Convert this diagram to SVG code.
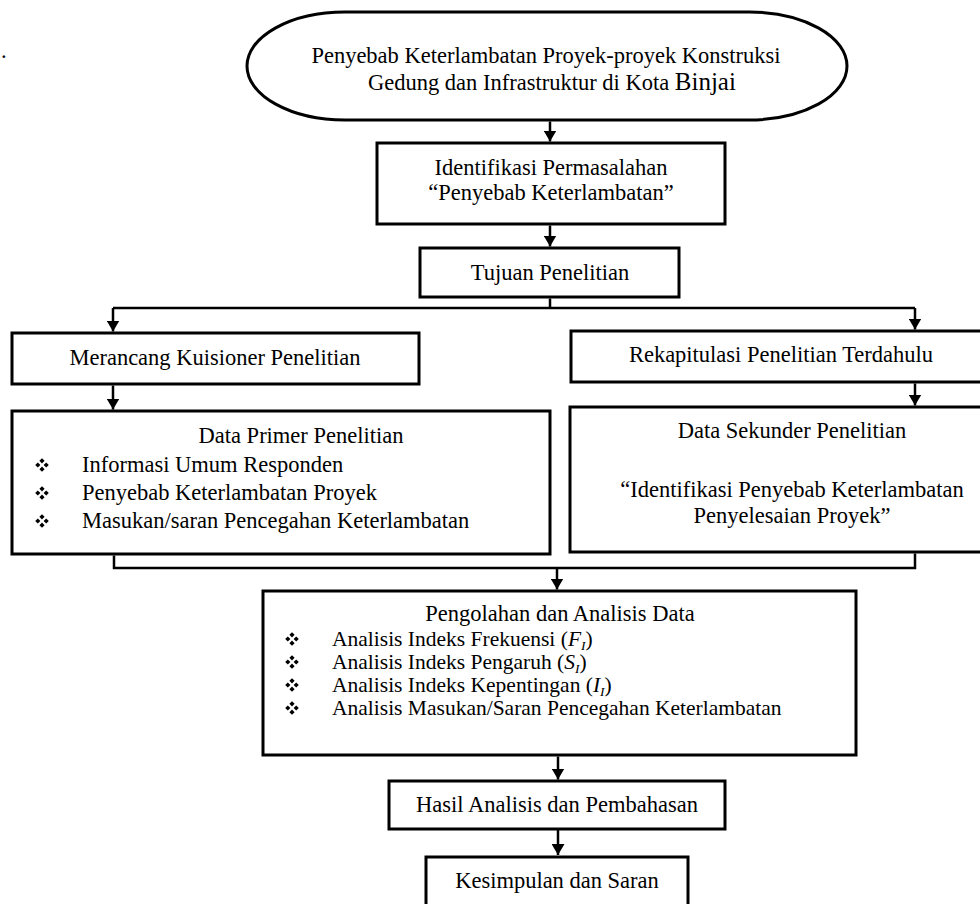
<svg xmlns="http://www.w3.org/2000/svg" width="980" height="904" viewBox="0 0 980 904">
<style>
  .box { fill: #ffffff; stroke: #000000; stroke-width: 3; }
  .conn { fill: none; stroke: #000000; stroke-width: 2.5; }
  text { font-family: "Liberation Serif", "Times New Roman", serif; font-size: 22.5px; fill: #000000; }
  .c { text-anchor: middle; }
  .sm { font-size: 21.5px; }
  .it { font-style: italic; }
</style>
<defs>
  <marker id="arr" markerUnits="userSpaceOnUse" markerWidth="11" markerHeight="13" refX="11" refY="6.5" orient="auto">
    <path d="M0,0 L11,6.5 L0,13 z" fill="#000000"/>
  </marker>
  <path id="bul" fill="#000000" d="M0,-6.8 L2.6,-4.2 L0,-1.6 L-2.6,-4.2Z M-4.2,-2.6 L-1.6,0 L-4.2,2.6 L-6.8,0Z M4.2,-2.6 L6.8,0 L4.2,2.6 L1.6,0Z M0,1.6 L2.6,4.2 L0,6.8 L-2.6,4.2Z"/>
</defs>
<rect x="0" y="0" width="980" height="904" fill="#ffffff"/>
<text x="1" y="58">.</text>

<g id="connectors">
  <path class="conn" d="M550,121.5 V141.5" marker-end="url(#arr)"/>
  <path class="conn" d="M550,225.5 V246.5" marker-end="url(#arr)"/>
  <path class="conn" d="M550,298.5 V308"/>
  <path class="conn" d="M113,308 H915"/>
  <path class="conn" d="M113,308 V331.5" marker-end="url(#arr)"/>
  <path class="conn" d="M915,308 V329.5" marker-end="url(#arr)"/>
  <path class="conn" d="M113,385.5 V409.5" marker-end="url(#arr)"/>
  <path class="conn" d="M915,383.5 V405.5" marker-end="url(#arr)"/>
  <path class="conn" d="M114,555.5 V568 H915 V553.5"/>
  <path class="conn" d="M557,568 V589.5" marker-end="url(#arr)"/>
  <path class="conn" d="M558,756.5 V779.5" marker-end="url(#arr)"/>
  <path class="conn" d="M558,829.5 V855" marker-end="url(#arr)"/>
</g>

<g id="start">
  <rect class="box" x="247" y="12" width="600" height="108" rx="98" ry="54"/>
  <text class="c" x="546" y="63">Penyebab Keterlambatan Proyek-proyek Konstruksi</text>
  <text x="368" y="90">Gedung dan Infrastruktur di Kota <tspan font-size="25">Binjai</tspan></text>
</g>

<g id="identifikasi">
  <rect class="box" x="377" y="143" width="348" height="81"/>
  <text class="c" x="551" y="175">Identifikasi Permasalahan</text>
  <text class="c" x="551" y="200">“Penyebab Keterlambatan”</text>
</g>

<g id="tujuan">
  <rect class="box" x="420" y="248" width="259" height="49"/>
  <text class="c" x="550" y="280">Tujuan Penelitian</text>
</g>

<g id="merancang">
  <rect class="box" x="12" y="333" width="407" height="51"/>
  <text class="c" x="215" y="365">Merancang Kuisioner Penelitian</text>
</g>

<g id="data-primer">
  <rect class="box" x="12" y="411" width="538" height="143"/>
  <text class="c" x="301" y="443">Data Primer Penelitian</text>
  <use href="#bul" x="42" y="465"/>
  <text x="82" y="472">Informasi Umum Responden</text>
  <use href="#bul" x="42" y="493"/>
  <text x="82" y="500">Penyebab Keterlambatan Proyek</text>
  <use href="#bul" x="42" y="521"/>
  <text x="82" y="528">Masukan/saran Pencegahan Keterlambatan</text>
</g>

<g id="rekapitulasi">
  <rect class="box" x="571" y="331" width="440" height="51"/>
  <text class="c" x="781" y="362">Rekapitulasi Penelitian Terdahulu</text>
</g>

<g id="data-sekunder">
  <rect class="box" x="570" y="407" width="442" height="145"/>
  <text class="c" x="792" y="438">Data Sekunder Penelitian</text>
  <text class="c" x="792" y="497">“Identifikasi Penyebab Keterlambatan</text>
  <text class="c" x="792" y="523">Penyelesaian Proyek”</text>
</g>

<g id="pengolahan">
  <rect class="box" x="263" y="591" width="593" height="164"/>
  <text class="c" x="560" y="621">Pengolahan dan Analisis Data</text>
  <use href="#bul" x="292" y="639"/>
  <text class="sm" x="332" y="646">Analisis Indeks Frekuensi (<tspan class="it">F</tspan><tspan class="it" font-size="13.5" dy="4">I</tspan><tspan dy="-4">)</tspan></text>
  <use href="#bul" x="292" y="662"/>
  <text class="sm" x="332" y="669">Analisis Indeks Pengaruh (<tspan class="it">S</tspan><tspan class="it" font-size="13.5" dy="4">I</tspan><tspan dy="-4">)</tspan></text>
  <use href="#bul" x="292" y="685"/>
  <text class="sm" x="332" y="692">Analisis Indeks Kepentingan (<tspan class="it">I</tspan><tspan class="it" font-size="13.5" dy="4">I</tspan><tspan dy="-4">)</tspan></text>
  <use href="#bul" x="292" y="708"/>
  <text class="sm" x="332" y="715">Analisis Masukan/Saran Pencegahan Keterlambatan</text>
</g>

<g id="hasil">
  <rect class="box" x="389" y="781" width="336" height="48"/>
  <text class="c" x="557" y="812">Hasil Analisis dan Pembahasan</text>
</g>

<g id="kesimpulan">
  <rect class="box" x="426" y="857" width="262" height="52"/>
  <text class="c" x="557" y="888">Kesimpulan dan Saran</text>
</g>
</svg>
